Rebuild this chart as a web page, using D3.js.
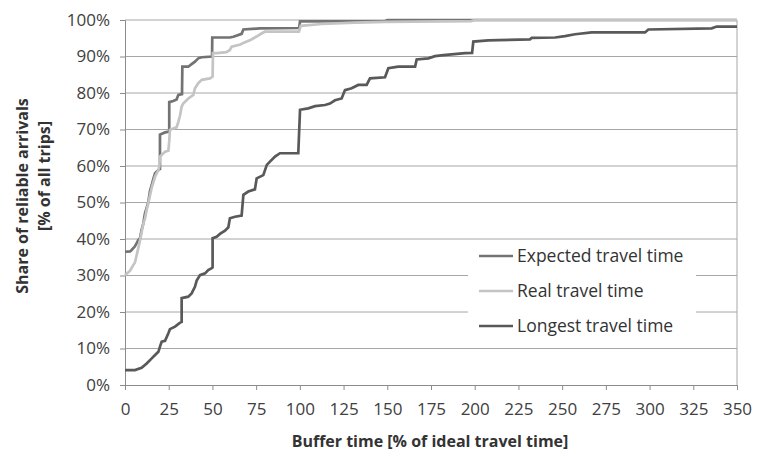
<!DOCTYPE html>
<html>
<head>
<meta charset="utf-8">
<script src="https://cdn.jsdelivr.net/npm/d3@7"></script>
<style>
  body { margin: 0; background: #fff; }
  text { font-family: "Open Sans", sans-serif; }
</style>
</head>
<body>
<div id="chart"></div>
<script>
// series: [buffer time %, share of reliable arrivals %]
const expectedTravel = [
  [0,36.5],[2.9,36.6],[3.8,37],[5.7,38],[7.6,39.7],[8.6,40.2],[9.5,42.5],[10.5,44.3],[11.4,47],
  [13.3,50],[14.3,53.2],[15.3,54.8],[16.2,56.5],[17.2,58],[19.1,58.9],[20,59.2],[20,63.9],[20,68.6],
  [22.9,69.2],[25.3,69.4],[25.3,77.5],[27.6,77.8],[29.5,78.2],[30.5,79.5],[32.6,79.7],[32.8,87.2],
  [36.2,87.2],[38.1,87.9],[40,88.6],[41.9,89.5],[43.9,89.8],[49.8,90],[49.9,95.2],[60,95.2],[62,95.4],
  [66.7,96.2],[67.7,97.4],[77,97.7],[99.6,97.8],[100.1,99.6],[148.7,99.7],[150,100],[350,100]
];
const realTravel = [
  [0,30.1],[2.9,31.3],[4.8,32.9],[5.7,33.6],[6.7,35.6],[7.6,37.5],[8.6,39.7],[10.5,44.3],[11.4,45.5],
  [12.4,48],[13.3,49.8],[15.3,54.1],[17.2,57.1],[19.1,58.9],[19.6,59.8],[20,62.6],[22.9,63.9],[24.8,64.2],
  [25.3,66.8],[25.7,69.9],[27.6,70.3],[29.5,70.6],[30.5,72.1],[31.5,73.9],[32.4,76.3],[33.3,77.1],
  [36.2,78.5],[39.1,79.5],[40,81.3],[41.9,82.7],[43.9,83.6],[48.6,84],[50.1,84.5],[50.3,90.9],[52.4,90.9],
  [58,91.2],[60,91.8],[61,92.7],[66,93.3],[68,93.8],[72,94.6],[75,95.4],[78,96.3],[80,96.8],[99.5,96.8],
  [100.5,98.4],[112.5,98.9],[131.5,99.3],[148.7,99.5],[198,99.7],[200,100],[350,100]
];
const longestTravel = [
  [0,4.1],[5.7,4.1],[9.5,4.7],[12.4,5.9],[15.3,7.3],[17.2,8.2],[19.1,9.1],[20,10.5],[21,11.9],[22.9,12.1],
  [24.8,14.2],[25.7,15.3],[28.6,16],[31.5,17.1],[32.4,17.3],[32.4,23.8],[36.2,24.2],[38.1,25.1],[40,26.9],
  [41,28.6],[42.9,30.1],[45.8,30.6],[47.6,31.5],[49.6,32],[50.1,32.2],[50.1,40.2],[52.4,40.6],[54.3,41.4],
  [57.2,42.3],[59.1,43.2],[60,45.7],[62.9,46.1],[66.7,46.4],[67.7,52.1],[70.5,53],[74.3,53.6],[75.3,56.6],
  [79.1,57.5],[81.1,60.3],[82.9,61.2],[85.8,62.6],[88.6,63.5],[99.1,63.5],[100.1,75.4],[104.8,75.8],
  [108.7,76.4],[114.4,76.7],[117.2,77.1],[120.1,78],[123.9,78.5],[125.8,80.8],[129.6,81.3],[133.4,82.2],
  [138.2,82.2],[140.1,84],[148.7,84.3],[150.6,86.8],[156.3,87.2],[165.9,87.2],[166.8,89.2],[173.5,89.5],
  [177.3,90.1],[182.1,90.4],[194.5,90.9],[198.5,91],[199.2,94.1],[207.8,94.4],[213.5,94.5],[231.6,94.7],
  [232.6,95.1],[246,95.2],[251.6,95.6],[257.4,96.1],[266.9,96.6],[297.4,96.6],[299.3,97.4],[335.5,97.7],
  [338.4,98.2],[350,98.2]
];

const seriesNames = ["Expected travel time", "Real travel time", "Longest travel time"];
const seriesColors = ["#737373", "#c4c4c4", "#595959"];
const xTicks = d3.range(0, 351, 25);
const yTicks = d3.range(0, 101, 10);

const width = 768;
const height = 457;
const margin = { top: 20, right: 31, bottom: 72, left: 125 };
const innerW = width - margin.left - margin.right;
const innerH = height - margin.top - margin.bottom;

const svg = d3.select('#chart')
  .append('svg')
  .attr('width', width)
  .attr('height', height);

const g = svg.append('g').attr('transform', `translate(${margin.left},${margin.top})`);

const x = d3.scaleLinear().domain([0, 350]).range([0, innerW]);
const y = d3.scaleLinear().domain([0, 100]).range([innerH, 0]);

// gridlines
g.selectAll('.grid')
  .data(yTicks.filter(d => d > 0))
  .enter()
  .append('line')
  .attr('x1', 0).attr('x2', innerW)
  .attr('y1', d => y(d)).attr('y2', d => y(d))
  .attr('stroke', '#a6a6a6')
  .attr('stroke-width', 1);

// right edge line
g.append('line')
  .attr('x1', innerW).attr('x2', innerW)
  .attr('y1', 0).attr('y2', innerH)
  .attr('stroke', '#a6a6a6');

// axes
const xAxis = g.append('g')
  .attr('transform', `translate(0,${innerH})`)
  .call(d3.axisBottom(x).tickValues(xTicks).tickSize(5).tickPadding(13));
const yAxis = g.append('g')
  .call(d3.axisLeft(y).tickValues(yTicks).tickSize(5).tickPadding(10).tickFormat(d => d + '%'));

[xAxis, yAxis].forEach(a => {
  a.select('.domain').attr('stroke', '#8c8c8c');
  a.selectAll('.tick line').attr('stroke', '#8c8c8c');
  a.selectAll('.tick text')
    .attr('fill', '#404040')
    .style('font-size', '17px')
    .style('font-family', '"Open Sans", sans-serif');
});

// lines
const line = d3.line().x(d => x(d[0])).y(d => y(d[1]));
[expectedTravel, realTravel, longestTravel].forEach((s, i) => {
  g.append('path')
    .datum(s)
    .attr('d', line)
    .attr('fill', 'none')
    .attr('stroke', seriesColors[i])
    .attr('stroke-width', 2.7)
    .attr('stroke-linejoin', 'miter');
});

// legend
const legend = svg.append('g').attr('transform', 'translate(468,241)');
legend.append('rect')
  .attr('width', 228).attr('height', 99)
  .attr('fill', '#fff');
seriesNames.forEach((name, i) => {
  const ly = 15 + i * 35;
  legend.append('line')
    .attr('x1', 11).attr('x2', 45)
    .attr('y1', ly).attr('y2', ly)
    .attr('stroke', seriesColors[i])
    .attr('stroke-width', 2.7);
  legend.append('text')
    .attr('x', 49).attr('y', ly)
    .attr('dy', '0.35em')
    .attr('fill', '#333')
    .style('font-size', '17.5px')
    .text(name);
});

// axis titles
svg.append('text')
  .attr('x', 430)
  .attr('y', 447)
  .attr('text-anchor', 'middle')
  .attr('fill', '#333')
  .style('font-size', '16px')
  .style('font-weight', 'bold')
  .text('Buffer time [% of ideal travel time]');

svg.append('text')
  .attr('transform', 'translate(28,196) rotate(-90)')
  .attr('text-anchor', 'middle')
  .attr('fill', '#333')
  .style('font-size', '16px')
  .style('font-weight', 'bold')
  .text('Share of reliable arrivals');
svg.append('text')
  .attr('transform', 'translate(50,176) rotate(-90)')
  .attr('text-anchor', 'middle')
  .attr('fill', '#333')
  .style('font-size', '16px')
  .style('font-weight', 'bold')
  .text('[% of all trips]');
</script>
</body>
</html>
